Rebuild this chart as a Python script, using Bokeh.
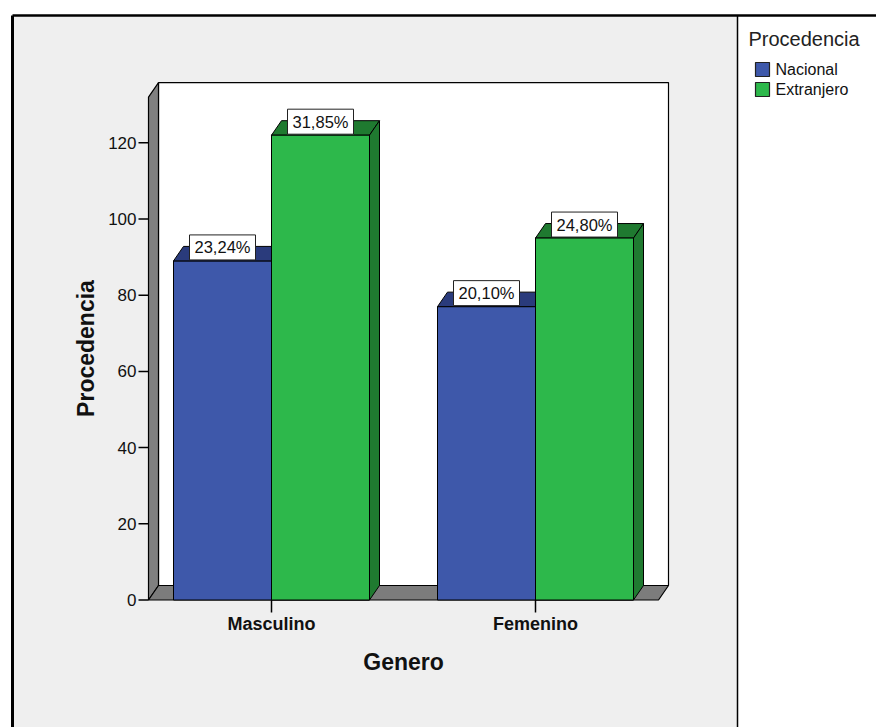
import math
from bokeh.plotting import figure
from bokeh.models import Range1d, ColumnDataSource
from bokeh.core.properties import value
from bokeh.embed import file_html
from bokeh.resources import INLINE

# ---------------- data ----------------
categories = ["Masculino", "Femenino"]
series_names = ["Nacional", "Extranjero"]
nacional = [89, 77]
extranjero = [122, 95]
y_ticks = [0, 20, 40, 60, 80, 100, 120]
y_title = "Procedencia"
x_title = "Genero"
legend_title = "Procedencia"
colors_front = ["#3e58aa", "#2db84b"]
colors_dark = ["#2a3b7c", "#1f7a30"]

# ---------------- layout constants (pixels) ----------------
W, H = 876, 727
PX_X = 264.0      # pixels per category step
X1 = 271.0        # pixel of first category centre
PX_Y = 3.81       # pixels per value unit
Y0 = 599.5        # pixel of value 0
Y_MAX = 132.0     # axis maximum
BAR_W = 98.0 / PX_X
DX = 10.0 / PX_X
DY = 14.5 / PX_Y
HALF_SPAN = 123.0 / PX_X
FONT = value("Liberation Sans")


def X(px):
    return 1 + (px - X1) / PX_X


def Y(py):
    return (Y0 - py) / PX_Y


p = figure(width=W, height=H, title=None,
           x_range=Range1d(X(0), X(W)), y_range=Range1d(Y(H), Y(0)),
           output_backend="svg", toolbar_location=None, min_border=0,
           x_axis_location=None, y_axis_location=None,
           background_fill_color="white", border_fill_color="white",
           outline_line_color=None)
p.xgrid.visible = False
p.ygrid.visible = False

# chart panel background
p.quad(left=X(12), right=X(737), bottom=Y(H), top=Y(15),
       fill_color="#efefef", line_color=None)
# frame lines
p.multi_line(xs=[[X(12), X(W)], [X(12), X(12)], [X(737), X(737)]],
             ys=[[Y(15), Y(15)], [Y(15), Y(H)], [Y(15), Y(H)]],
             line_color="black", line_width=[2.5, 3, 1.5])

xs_cat = [i + 1 for i in range(len(categories))]
xl = 1 - HALF_SPAN
xr = len(categories) + HALF_SPAN

# back wall
p.quad(left=xl + DX, right=xr + DX, bottom=DY, top=Y_MAX + DY,
       fill_color="white", line_color="black", line_width=1.2)
# left wall
p.patch(x=[xl, xl, xl + DX, xl + DX], y=[0, Y_MAX, Y_MAX + DY, DY],
        fill_color="#808080", line_color="black", line_width=1.2)
# floor
p.patch(x=[xl, xr, xr + DX, xl + DX], y=[0, 0, DY, DY],
        fill_color="#7c7c7c", line_color="black", line_width=1.2)

# ---------------- bars ----------------
for si, vals in enumerate([nacional, extranjero]):
    lefts = [x - BAR_W + si * BAR_W for x in xs_cat]
    rights = [l + BAR_W for l in lefts]
    # front
    p.quad(left=lefts, right=rights, bottom=[0] * len(vals), top=vals,
           fill_color=colors_front[si], line_color="black", line_width=1)
    # top face
    p.patches(xs=[[l, r, r + DX, l + DX] for l, r in zip(lefts, rights)],
              ys=[[v, v, v + DY, v + DY] for v in vals],
              fill_color=colors_dark[si], line_color="black", line_width=1)
    # side face
    p.patches(xs=[[r, r + DX, r + DX, r] for r in rights],
              ys=[[0, DY, v + DY, v] for v in vals],
              fill_color=colors_dark[si], line_color="black", line_width=1)

# re-draw the green front faces above the blue tops (occlusion)
p.quad(left=xs_cat, right=[x + BAR_W for x in xs_cat],
       bottom=[0] * len(extranjero), top=extranjero,
       fill_color=colors_front[1], line_color="black", line_width=1)

# ---------------- percentage labels ----------------
total = sum(nacional) + sum(extranjero)
lab_x, lab_y, lab_t = [], [], []
for si, vals in enumerate([nacional, extranjero]):
    for x, v in zip(xs_cat, vals):
        lab_x.append(x - BAR_W / 2 + si * BAR_W)
        lab_y.append(v + 13.5 / PX_Y)
        lab_t.append(("%.2f" % (100.0 * v / total)).replace(".", ",") + "%")
src = ColumnDataSource(dict(x=lab_x, y=lab_y, t=lab_t))
p.rect(x="x", y="y", width=66, height=25, width_units="screen",
       height_units="screen", source=src, fill_color="white",
       line_color="#222222", line_width=1)
p.text(x="x", y="y", text="t", source=src, text_font=FONT,
       text_font_size="16.5px", text_align="center", text_baseline="middle",
       text_color="#111111")

# ---------------- y axis ----------------
p.segment(x0=[X(138)] * len(y_ticks), x1=[xl] * len(y_ticks),
          y0=y_ticks, y1=y_ticks, line_color="black", line_width=1.5)
p.text(x=[X(136)] * len(y_ticks), y=y_ticks, text=[str(t) for t in y_ticks],
       text_font=FONT, text_font_size="17px", text_align="right",
       text_baseline="middle", text_color="#111111")
p.text(x=[X(85)], y=[Y(348)], text=[y_title], angle=math.pi / 2,
       text_font=FONT, text_font_size="23px", text_font_style="bold",
       text_align="center", text_baseline="middle", text_color="#111111")

# ---------------- x axis ----------------
p.segment(x0=xs_cat, x1=xs_cat, y0=[0] * len(xs_cat),
          y1=[Y(612)] * len(xs_cat), line_color="black", line_width=1.5)
p.text(x=xs_cat, y=[Y(623)] * len(xs_cat), text=categories,
       text_font=FONT, text_font_size="18px", text_font_style="bold",
       text_align="center", text_baseline="middle", text_color="#111111")
p.text(x=[X(403)], y=[Y(661)], text=[x_title],
       text_font=FONT, text_font_size="23px", text_font_style="bold",
       text_align="center", text_baseline="middle", text_color="#111111")

# ---------------- legend ----------------
p.text(x=[X(748)], y=[Y(38)], text=[legend_title], text_font=FONT,
       text_font_size="20px", text_align="left", text_baseline="middle",
       text_color="#222222")
leg_y = [Y(69), Y(89)]
p.rect(x=[X(762)] * 2, y=leg_y, width=14, height=14, width_units="screen",
       height_units="screen", fill_color=colors_front, line_color="#222222",
       line_width=1.2)
p.text(x=[X(775)] * 2, y=leg_y, text=series_names, text_font=FONT,
       text_font_size="16px", text_align="left", text_baseline="middle",
       text_color="#111111")

open("out.html", "w").write(file_html(p, INLINE))
